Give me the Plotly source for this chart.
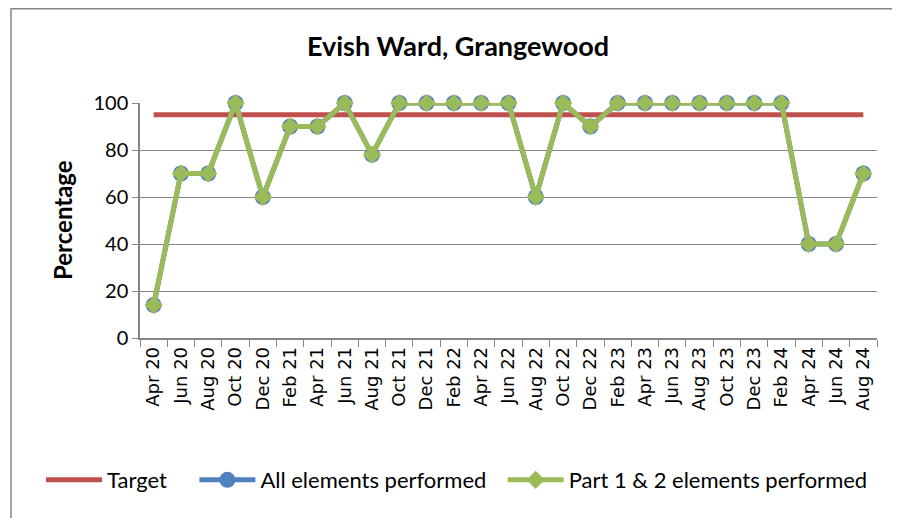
import plotly.graph_objects as go

categories = ["Apr 20", "Jun 20", "Aug 20", "Oct 20", "Dec 20", "Feb 21", "Apr 21", "Jun 21",
              "Aug 21", "Oct 21", "Dec 21", "Feb 22", "Apr 22", "Jun 22", "Aug 22", "Oct 22",
              "Dec 22", "Feb 23", "Apr 23", "Jun 23", "Aug 23", "Oct 23", "Dec 23", "Feb 24",
              "Apr 24", "Jun 24", "Aug 24"]
target = [95] * len(categories)
all_elements = [14, 70, 70, 100, 60, 90, 90, 100, 78, 100, 100, 100, 100, 100, 60, 100,
                90, 100, 100, 100, 100, 100, 100, 100, 40, 40, 70]
part12_elements = [14, 70, 70, 100, 60, 90, 90, 100, 78, 100, 100, 100, 100, 100, 60, 100,
                   90, 100, 100, 100, 100, 100, 100, 100, 40, 40, 70]
y_ticks = [0, 20, 40, 60, 80, 100]

OFF = 8  # page body margin
W, H = 900 - OFF, 518 - OFF
# plot area in reference pixel coords: x 140..877, y 103..338
L, R, T, B = 140 - OFF, 900 - 877, 103 - OFF, 518 - 338
pw, ph = W - L - R, H - T - B

def px_x(x):
    return (x - OFF - L) / pw

def px_y(y):
    return (T + ph - (y - OFF)) / ph

NB = "\u00a0"

fig = go.Figure()
fig.add_trace(go.Scatter(x=categories, y=target, name="Target" + NB * 4, mode="lines",
                         line=dict(color="#C0504D", width=5), cliponaxis=False))
fig.add_trace(go.Scatter(x=categories, y=all_elements, name="All elements performed" + NB * 2,
                         mode="lines+markers", line=dict(color="#4F81BD", width=5),
                         marker=dict(symbol="circle", size=16, color="#4F81BD"),
                         cliponaxis=False))
fig.add_trace(go.Scatter(x=categories, y=part12_elements, name="Part 1 & 2 elements performed",
                         mode="lines+markers", line=dict(color="#9BBB59", width=5),
                         marker=dict(symbol="diamond", size=14, color="#9BBB59"),
                         cliponaxis=False))

fig.update_layout(
    width=W, height=H,
    margin=dict(l=L, r=R, t=T, b=B, autoexpand=False),
    paper_bgcolor="white", plot_bgcolor="white",
    font=dict(family="Lato", color="black", size=20),
    title=dict(text="<b>Evish Ward, Grangewood</b>", x=(458 - OFF) / W, xanchor="center",
               y=1 - (47 - OFF) / H, yanchor="middle", yref="container",
               font=dict(family="Lato", size=27, color="black")),
    showlegend=True,
    legend=dict(orientation="h", x=px_x(41), xanchor="left", y=px_y(480), yanchor="middle",
                font=dict(family="Lato", size=22, color="black"), itemwidth=56,
                bgcolor="rgba(0,0,0,0)"),
    xaxis=dict(type="category", range=[-0.5, len(categories) - 0.5], tickangle=-90,
               tickson="boundaries", ticks="outside", ticklen=7, tickcolor="#868686",
               showline=True, linecolor="#868686", linewidth=1.5, showgrid=False,
               tickfont=dict(family="DejaVu Sans", size=18, color="black")),
    yaxis=dict(range=[0, 100], tickvals=y_ticks, ticks="outside", ticklen=6,
               tickcolor="#868686", showline=True, linecolor="#868686", linewidth=1.5,
               showgrid=True, gridcolor="#868686", gridwidth=1, zeroline=False,
               tickfont=dict(family="Lato", size=20, color="black")),
    annotations=[dict(text="<b>Percentage</b>", textangle=-90, xref="paper", yref="paper",
                      x=px_x(62), y=px_y(220), xanchor="center", yanchor="middle",
                      showarrow=False, font=dict(family="Lato", size=24, color="black"))],
    shapes=[dict(type="rect", xref="paper", yref="paper", x0=px_x(11), x1=px_x(910),
                 y0=px_y(530), y1=px_y(8.7), line=dict(color="#868686", width=1.5),
                 fillcolor="rgba(0,0,0,0)", layer="below")],
)

fig.write_html("out.html")
